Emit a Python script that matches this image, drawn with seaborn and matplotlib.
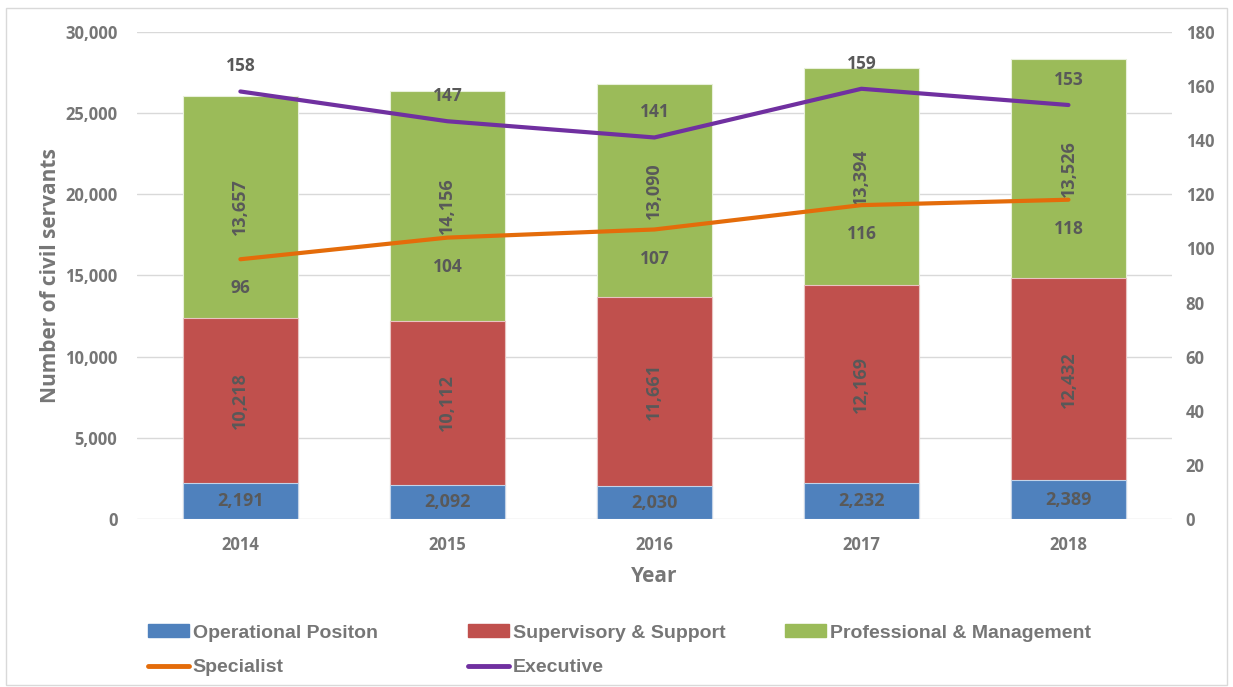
import numpy as np
import pandas as pd
import matplotlib
matplotlib.use('Agg')
import matplotlib.pyplot as plt
import seaborn as sns
from matplotlib.patches import Patch, Rectangle
from matplotlib.lines import Line2D

years = ['2014', '2015', '2016', '2017', '2018']
operational = [2191, 2092, 2030, 2232, 2389]
supervisory = [10218, 10112, 11661, 12169, 12432]
professional = [13657, 14156, 13090, 13394, 13526]
specialist = [96, 104, 107, 116, 118]
executive = [158, 147, 141, 159, 153]

c_blue = '#4f81bd'
c_red = '#c0504d'
c_green = '#9bbb59'
c_orange = '#e46c0a'
c_purple = '#7030a0'
txt = '#767676'
lab = '#595959'

sns.set_style('white')
plt.rcParams['font.family'] = ['Open Sans', 'DejaVu Sans']
plt.rcParams['font.weight'] = 'bold'

df = pd.DataFrame({'year': years, 'op': operational, 'sup': supervisory, 'prof': professional,
                   'spec': specialist, 'exe': executive})
df['s2'] = df['op'] + df['sup']
df['s3'] = df['s2'] + df['prof']

fig = plt.figure(figsize=(12.33, 6.87), dpi=100)
ax = fig.add_axes([0.111, 0.2445, 0.8395, 0.709])

# stacked bars drawn from the total down
bw = 0.555
sns.barplot(data=df, x='year', y='s3', color=c_green, width=bw, saturation=1, ax=ax,
            edgecolor='#e8f0da', linewidth=0.8, zorder=2)
sns.barplot(data=df, x='year', y='s2', color=c_red, width=bw, saturation=1, ax=ax,
            edgecolor='#e9c3c2', linewidth=0.8, zorder=2)
sns.barplot(data=df, x='year', y='op', color=c_blue, width=bw, saturation=1, ax=ax,
            edgecolor='#c3d3e8', linewidth=0.8, zorder=2)

ax.set_ylim(0, 30000)
ax.set_xlim(-0.5, 4.5)
ax.set_yticks(range(0, 30001, 5000))
ax.set_yticklabels([f'{v:,}' for v in range(0, 30001, 5000)])
ax.set_xticks(range(len(years)))
ax.set_xticklabels(years)
ax.yaxis.grid(True, color='#d9d9d9', linewidth=1)
ax.set_axisbelow(True)
for s in ax.spines.values():
    s.set_visible(False)
ax.tick_params(axis='both', length=0, labelsize=12, labelcolor=txt)
ax.tick_params(axis='y', pad=14)
ax.tick_params(axis='x', pad=12)
ax.set_xlabel('Year', fontsize=15, fontweight='bold', color=txt, labelpad=9)
ax.set_ylabel('Number of civil servants', fontsize=15, fontweight='bold', color=txt, labelpad=3)

for i in range(len(years)):
    ax.text(i, operational[i] / 2, f'{operational[i]:,}', ha='center', va='center',
            fontsize=13, color=lab)
    ax.text(i, operational[i] + supervisory[i] / 2, f'{supervisory[i]:,}', ha='center',
            va='center', rotation=90, fontsize=13, color=lab)
    ax.text(i, df['s2'][i] + professional[i] / 2, f'{professional[i]:,}', ha='center',
            va='center', rotation=90, fontsize=13, color=lab)

ax2 = ax.twinx()
ax2.set_position(ax.get_position())
xs = np.arange(len(years))
sns.lineplot(x=xs, y=specialist, color=c_orange, linewidth=3, ax=ax2, zorder=3)
sns.lineplot(x=xs, y=executive, color=c_purple, linewidth=3, ax=ax2, zorder=3)
ax2.set_ylim(0, 180)
ax2.set_xlim(-0.5, 4.5)
ax2.set_yticks(range(0, 181, 20))
for s in ax2.spines.values():
    s.set_visible(False)
ax2.tick_params(axis='y', length=0, labelsize=12, labelcolor=txt, pad=10)

for i in range(len(years)):
    ax2.annotate(str(executive[i]), (i, executive[i]), xytext=(0, 18), textcoords='offset points',
                 ha='center', va='center', fontsize=12.5, color=lab)
    ax2.annotate(str(specialist[i]), (i, specialist[i]), xytext=(0, -21), textcoords='offset points',
                 ha='center', va='center', fontsize=12.5, color=lab)

# legend: three single-column legends so each column sits where the reference has it
h_op = Patch(color=c_blue)
h_sup = Patch(color=c_red)
h_prof = Patch(color=c_green)
h_spec = Line2D([], [], color=c_orange, linewidth=3.5)
h_exe = Line2D([], [], color=c_purple, linewidth=3.5)
groups = [([h_op, h_spec], ['Operational Positon', 'Specialist'], 148),
          ([h_sup, h_exe], ['Supervisory & Support', 'Executive'], 468),
          ([h_prof], ['Professional & Management'], 785)]
for hs, ns, px in groups:
    leg = fig.legend(hs, ns, loc='upper left', bbox_to_anchor=(px / 1233, 0.091),
                     frameon=False, fontsize=14, handlelength=2.1, handleheight=0.6,
                     handletextpad=0.2, labelspacing=0.9, borderpad=0, borderaxespad=0)
    for t in leg.get_texts():
        t.set_color(txt)
        t.set_fontweight('bold')
        t.set_family(['Liberation Sans Narrow', 'Liberation Sans', 'DejaVu Sans'])

fig.patches.append(Rectangle((0.005, 0.003), 0.99, 0.985, transform=fig.transFigure,
                             fill=False, edgecolor='#d9d9d9', linewidth=1))

fig.savefig('out.png', dpi=100)
